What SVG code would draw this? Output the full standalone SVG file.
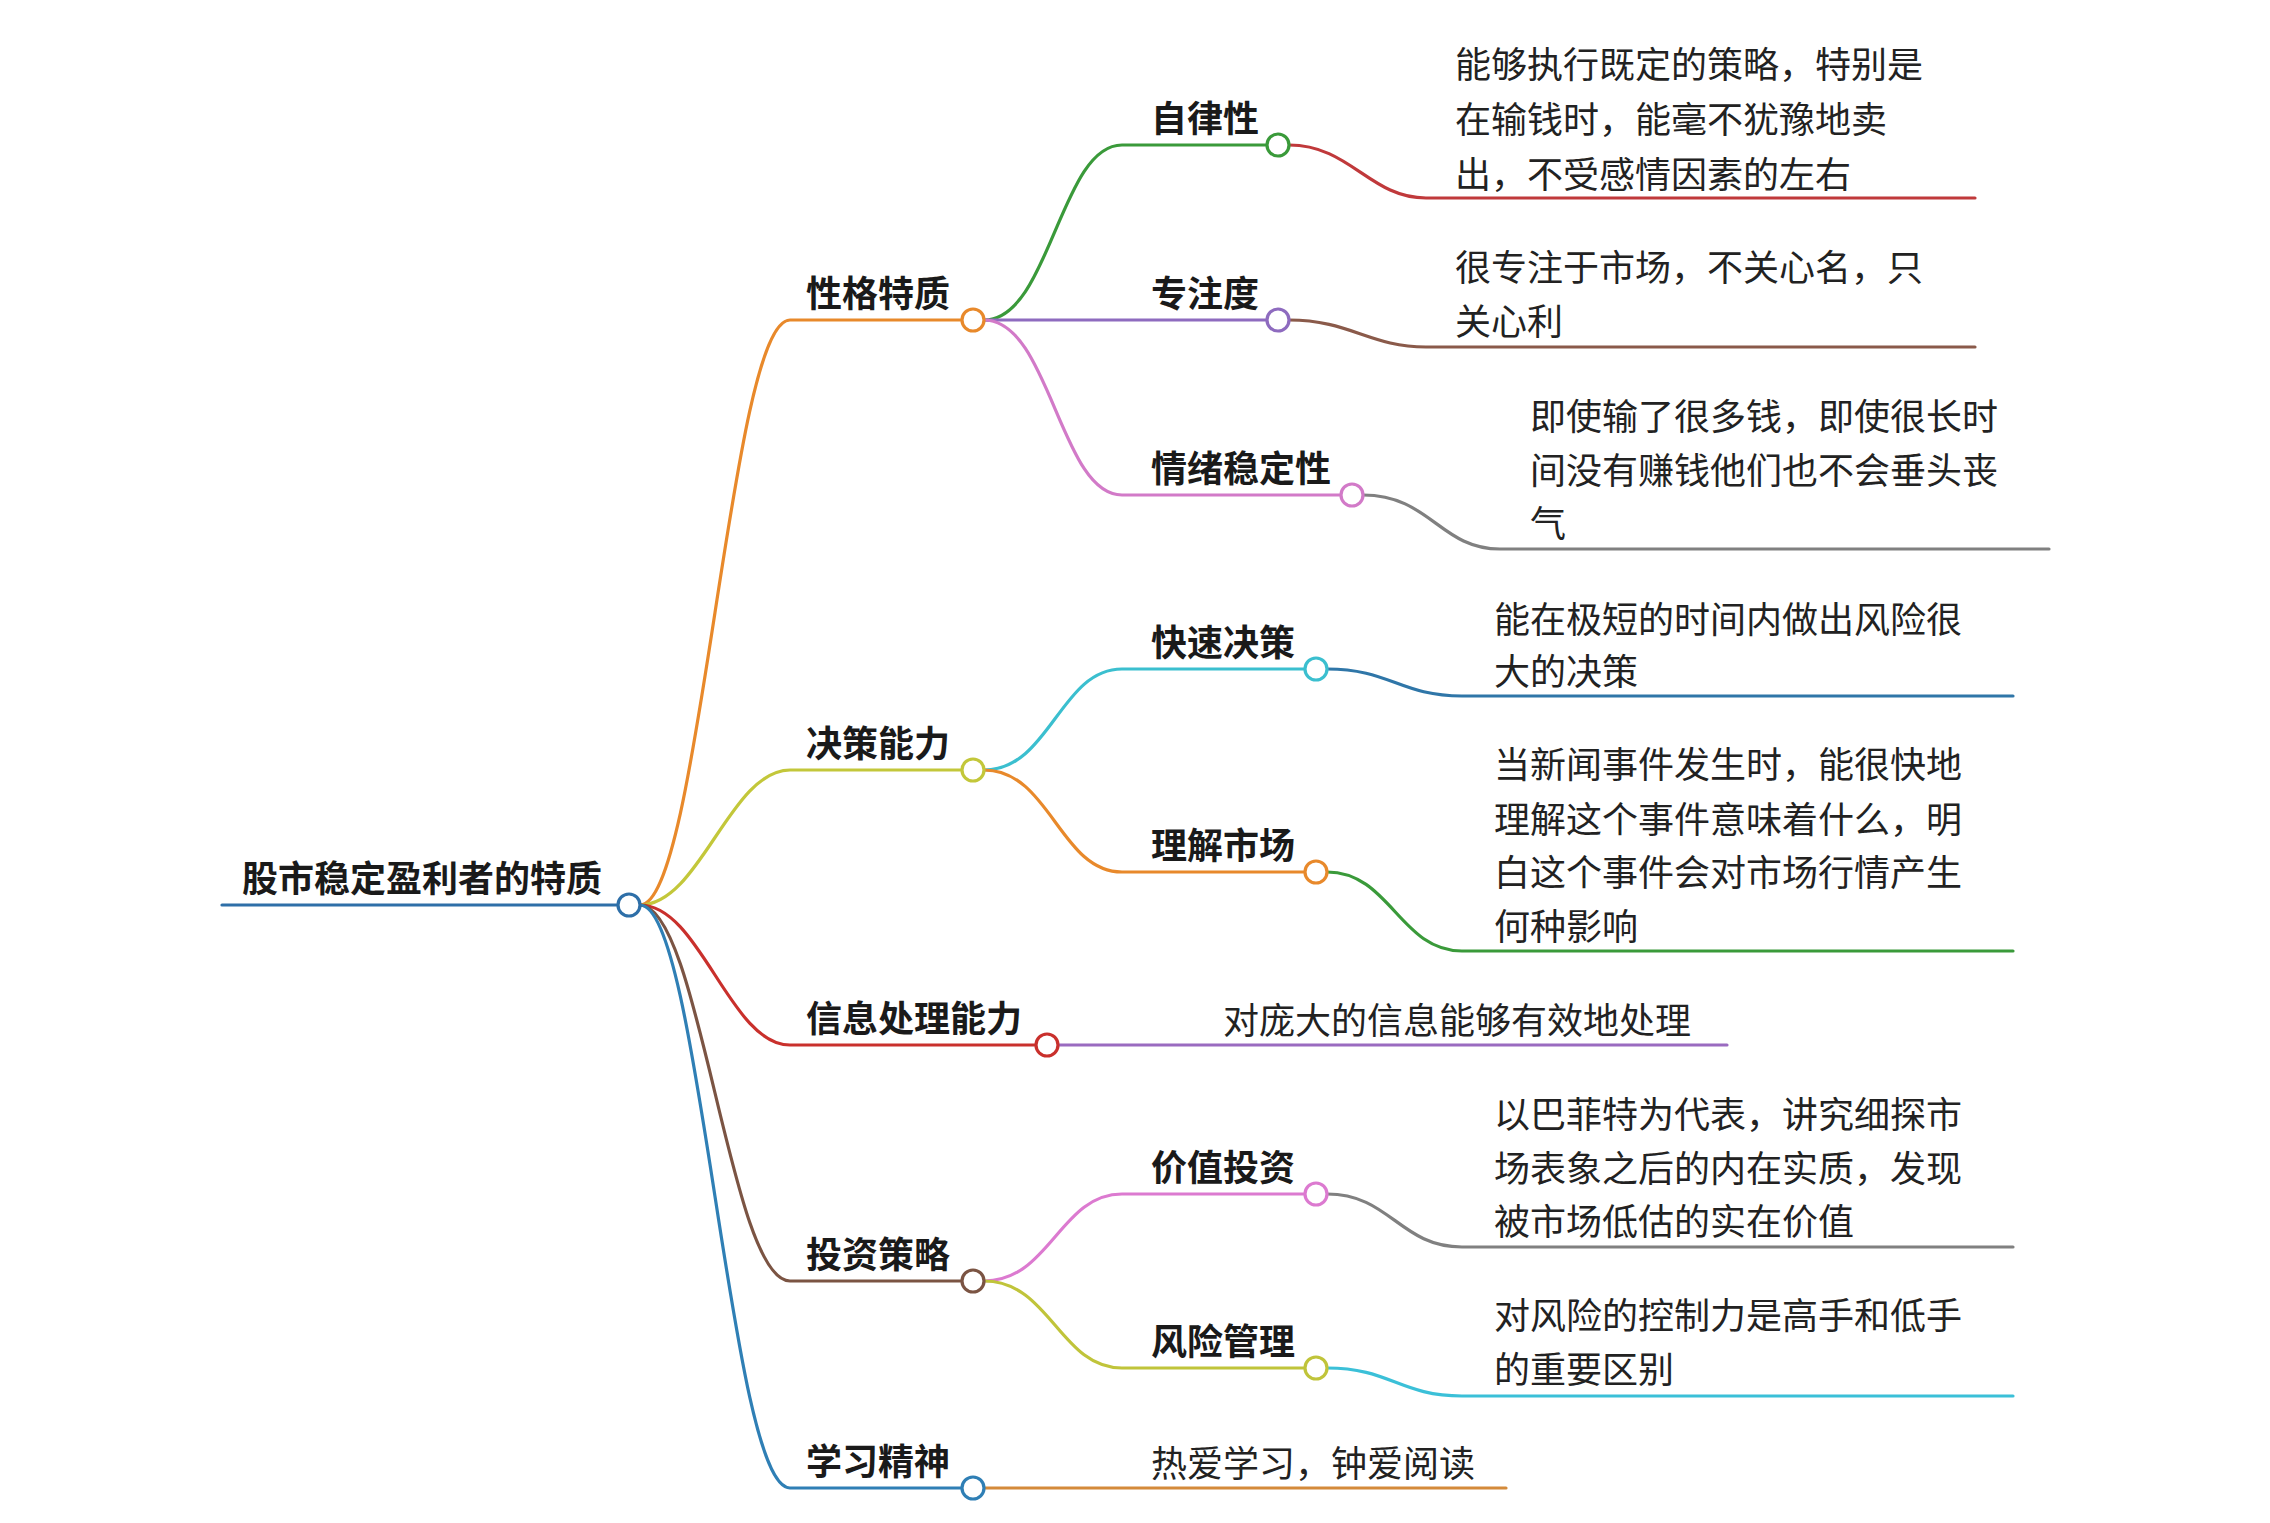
<svg xmlns="http://www.w3.org/2000/svg" width="2270" height="1523" viewBox="0 0 2270 1523">
<style>
.e{fill:none;stroke-width:3.2;stroke-linecap:round}
.c{fill:#fff;stroke-width:3.2}
.b{font-family:"Noto Sans CJK SC","Noto Sans",sans-serif;font-weight:bold;font-size:36px;fill:#1a1a1a}
.t{font-family:"Noto Sans CJK SC","Noto Sans",sans-serif;font-size:36px;fill:#222}
</style>
<rect width="2270" height="1523" fill="#fff"/>
<g id="connectors">
<path class="e" stroke="#2e6fa8" d="M222,905 H618"/>
<path class="e" stroke="#e8892b" d="M640,905 C700,905 730,320 790,320 H962"/>
<path class="e" stroke="#c3c73a" d="M640,905 C700,905 730,770 790,770 H962"/>
<path class="e" stroke="#c9302c" d="M640,905 C700,905 730,1045 790,1045 H1036"/>
<path class="e" stroke="#7b5443" d="M640,905 C700,905 730,1281 790,1281 H962"/>
<path class="e" stroke="#2f7fb5" d="M640,905 C700,905 730,1488 790,1488 H962"/>
<path class="e" stroke="#3a9a3a" d="M984,320 C1050,320 1060,145 1122,145 H1267"/>
<path class="e" stroke="#8e6bbf" d="M984,320 H1267"/>
<path class="e" stroke="#d27ac8" d="M984,320 C1050,320 1060,495 1122,495 H1341"/>
<path class="e" stroke="#3bbfcf" d="M984,770 C1050,770 1060,669 1122,669 H1305"/>
<path class="e" stroke="#e8892b" d="M984,770 C1050,770 1060,872 1122,872 H1305"/>
<path class="e" stroke="#dc7ad0" d="M984,1281 C1050,1281 1060,1194 1122,1194 H1305"/>
<path class="e" stroke="#c0c43a" d="M984,1281 C1050,1281 1060,1368 1122,1368 H1305"/>
<path class="e" stroke="#c0393b" d="M1289,145 C1350,145 1370,198 1426,198 H1975"/>
<path class="e" stroke="#8a5a4a" d="M1289,320 C1350,320 1370,347 1426,347 H1975"/>
<path class="e" stroke="#808080" d="M1363,495 C1430,495 1440,549 1500,549 H2049"/>
<path class="e" stroke="#2f76a8" d="M1327,669 C1390,669 1400,696 1462,696 H2013"/>
<path class="e" stroke="#3a9a3a" d="M1327,872 C1390,872 1400,951 1462,951 H2013"/>
<path class="e" stroke="#9a6bc0" d="M1058,1045 H1727"/>
<path class="e" stroke="#808080" d="M1327,1194 C1390,1194 1400,1247 1462,1247 H2013"/>
<path class="e" stroke="#3bc0d8" d="M1327,1368 C1390,1368 1400,1396 1462,1396 H2013"/>
<path class="e" stroke="#d48a3a" d="M984,1488 H1506"/>
</g>
<g id="root"><text class="b" x="242" y="892">股市稳定盈利者的特质</text><circle class="c" stroke="#2e6fa8" cx="629" cy="905" r="11"/></g>
<g id="n1"><text class="b" x="806" y="307">性格特质</text><circle class="c" stroke="#e8892b" cx="973" cy="320" r="11"/></g>
<g id="n2"><text class="b" x="806" y="757">决策能力</text><circle class="c" stroke="#c3c73a" cx="973" cy="770" r="11"/></g>
<g id="n3"><text class="b" x="806" y="1032">信息处理能力</text><circle class="c" stroke="#c9302c" cx="1047" cy="1045" r="11"/></g>
<g id="n4"><text class="b" x="806" y="1268">投资策略</text><circle class="c" stroke="#7b5443" cx="973" cy="1281" r="11"/></g>
<g id="n5"><text class="b" x="806" y="1475">学习精神</text><circle class="c" stroke="#2f7fb5" cx="973" cy="1488" r="11"/></g>
<g id="n11"><text class="b" x="1151" y="132">自律性</text><circle class="c" stroke="#3a9a3a" cx="1278" cy="145" r="11"/></g>
<g id="n12"><text class="b" x="1151" y="307">专注度</text><circle class="c" stroke="#8e6bbf" cx="1278" cy="320" r="11"/></g>
<g id="n13"><text class="b" x="1151" y="482">情绪稳定性</text><circle class="c" stroke="#d27ac8" cx="1352" cy="495" r="11"/></g>
<g id="n21"><text class="b" x="1151" y="656">快速决策</text><circle class="c" stroke="#3bbfcf" cx="1316" cy="669" r="11"/></g>
<g id="n22"><text class="b" x="1151" y="859">理解市场</text><circle class="c" stroke="#e8892b" cx="1316" cy="872" r="11"/></g>
<g id="n41"><text class="b" x="1151" y="1181">价值投资</text><circle class="c" stroke="#dc7ad0" cx="1316" cy="1194" r="11"/></g>
<g id="n42"><text class="b" x="1151" y="1355">风险管理</text><circle class="c" stroke="#c0c43a" cx="1316" cy="1368" r="11"/></g>
<g id="l11"><text class="t" x="1455" y="78">能够执行既定的策略，特别是</text><text class="t" x="1455" y="133">在输钱时，能毫不犹豫地卖</text><text class="t" x="1455" y="188">出，不受感情因素的左右</text></g>
<g id="l12"><text class="t" x="1455" y="281">很专注于市场，不关心名，只</text><text class="t" x="1455" y="335">关心利</text></g>
<g id="l13"><text class="t" x="1530" y="430">即使输了很多钱，即使很长时</text><text class="t" x="1530" y="484">间没有赚钱他们也不会垂头丧</text><text class="t" x="1530" y="537">气</text></g>
<g id="l21"><text class="t" x="1494" y="633">能在极短的时间内做出风险很</text><text class="t" x="1494" y="685">大的决策</text></g>
<g id="l22"><text class="t" x="1494" y="778">当新闻事件发生时，能很快地</text><text class="t" x="1494" y="833">理解这个事件意味着什么，明</text><text class="t" x="1494" y="886">白这个事件会对市场行情产生</text><text class="t" x="1494" y="940">何种影响</text></g>
<g id="l3"><text class="t" x="1223" y="1034">对庞大的信息能够有效地处理</text></g>
<g id="l41"><text class="t" x="1494" y="1128">以巴菲特为代表，讲究细探市</text><text class="t" x="1494" y="1182">场表象之后的内在实质，发现</text><text class="t" x="1494" y="1235">被市场低估的实在价值</text></g>
<g id="l42"><text class="t" x="1494" y="1329">对风险的控制力是高手和低手</text><text class="t" x="1494" y="1383">的重要区别</text></g>
<g id="l5"><text class="t" x="1151" y="1477">热爱学习，钟爱阅读</text></g>
</svg>
